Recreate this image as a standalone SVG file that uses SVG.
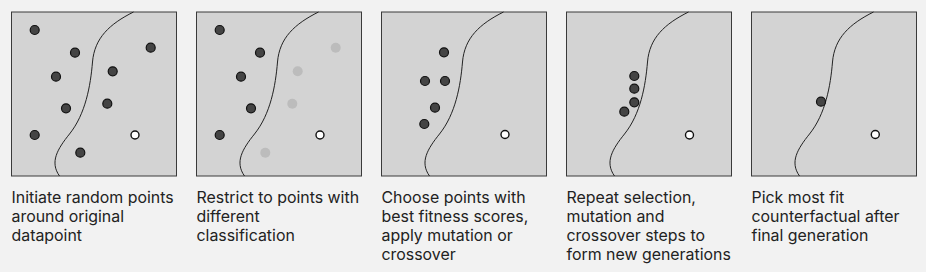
<svg xmlns="http://www.w3.org/2000/svg" width="926" height="272" viewBox="0 0 926 272">
<defs>
<style>
.panel{fill:#d3d3d3;stroke:#3a3a3a;stroke-width:1}
.curve{fill:none;stroke:#222;stroke-width:1}
.dot{fill:#444;stroke:#111;stroke-width:1.2}
.faded{fill:#bcbcbc;stroke:none}
.orig{fill:#fff;stroke:#111;stroke-width:1.4}
.lbl{font-family:Inter,"Liberation Sans",sans-serif;font-size:15.9px;fill:#222}
</style>
<path id="boundary" class="curve" d="M122,0 C98,12 83,26 81,50 C79,74 74,102 58,122 C46,137 38,150 48,164"/>
</defs>
<rect width="926" height="272" fill="#f2f2f2"/>

<g id="panel1">
<rect class="panel" x="11.5" y="12" width="165" height="164"/>
<use href="#boundary" x="11.5" y="12"/>
<circle class="dot" cx="34.7" cy="30" r="4.5"/>
<circle class="dot" cx="75" cy="52.7" r="4.5"/>
<circle class="dot" cx="150.7" cy="47.7" r="4.5"/>
<circle class="dot" cx="56" cy="76.7" r="4.5"/>
<circle class="dot" cx="112.7" cy="71.3" r="4.5"/>
<circle class="dot" cx="66" cy="108.3" r="4.5"/>
<circle class="dot" cx="107.3" cy="103.7" r="4.5"/>
<circle class="dot" cx="34.7" cy="135" r="4.5"/>
<circle class="dot" cx="80.3" cy="152.7" r="4.5"/>
<circle class="orig" cx="135" cy="135" r="4"/>
<text class="lbl" x="11.5" y="202.7">Initiate random points</text>
<text class="lbl" x="11.5" y="221.7">around original</text>
<text class="lbl" x="11.5" y="240.7">datapoint</text>
</g>

<g id="panel2">
<rect class="panel" x="196.5" y="12" width="165" height="164"/>
<use href="#boundary" x="196.5" y="12"/>
<circle class="dot" cx="219.7" cy="30" r="4.5"/>
<circle class="dot" cx="260" cy="52.7" r="4.5"/>
<circle class="faded" cx="335.7" cy="47.7" r="5"/>
<circle class="dot" cx="241" cy="76.7" r="4.5"/>
<circle class="faded" cx="297.7" cy="71.3" r="5"/>
<circle class="dot" cx="251" cy="108.3" r="4.5"/>
<circle class="faded" cx="292.3" cy="103.7" r="5"/>
<circle class="dot" cx="219.7" cy="135" r="4.5"/>
<circle class="faded" cx="265.3" cy="152.7" r="5"/>
<circle class="orig" cx="320" cy="135" r="4"/>
<text class="lbl" x="196.5" y="202.7">Restrict to points with</text>
<text class="lbl" x="196.5" y="221.7">different</text>
<text class="lbl" x="196.5" y="240.7">classification</text>
</g>

<g id="panel3">
<rect class="panel" x="381.5" y="12" width="165" height="164"/>
<use href="#boundary" x="381.5" y="12"/>
<circle class="dot" cx="444" cy="52.3" r="4.5"/>
<circle class="dot" cx="425" cy="81" r="4.5"/>
<circle class="dot" cx="445" cy="81" r="4.5"/>
<circle class="dot" cx="435" cy="107.7" r="4.5"/>
<circle class="dot" cx="424.3" cy="124" r="4.5"/>
<circle class="orig" cx="505" cy="134.5" r="4"/>
<text class="lbl" x="381.5" y="202.7">Choose points with</text>
<text class="lbl" x="381.5" y="221.7">best fitness scores,</text>
<text class="lbl" x="381.5" y="240.7">apply mutation or</text>
<text class="lbl" x="381.5" y="259.7">crossover</text>
</g>

<g id="panel4">
<rect class="panel" x="566.5" y="12" width="165" height="164"/>
<use href="#boundary" x="566.5" y="12"/>
<circle class="dot" cx="634.3" cy="76" r="4.5"/>
<circle class="dot" cx="634.3" cy="88.7" r="4.5"/>
<circle class="dot" cx="634.3" cy="102.3" r="4.5"/>
<circle class="dot" cx="624.3" cy="111.7" r="4.5"/>
<circle class="orig" cx="689.5" cy="135" r="4"/>
<text class="lbl" x="566.5" y="202.7">Repeat selection,</text>
<text class="lbl" x="566.5" y="221.7">mutation and</text>
<text class="lbl" x="566.5" y="240.7">crossover steps to</text>
<text class="lbl" x="566.5" y="259.7">form new generations</text>
</g>

<g id="panel5">
<rect class="panel" x="751.5" y="12" width="165" height="164"/>
<use href="#boundary" x="751.5" y="12"/>
<circle class="dot" cx="821" cy="101.7" r="4.5"/>
<circle class="orig" cx="875.3" cy="134.5" r="4"/>
<text class="lbl" x="751.5" y="202.7">Pick most fit</text>
<text class="lbl" x="751.5" y="221.7">counterfactual after</text>
<text class="lbl" x="751.5" y="240.7">final generation</text>
</g>

<g id="connectors"></g>
</svg>
